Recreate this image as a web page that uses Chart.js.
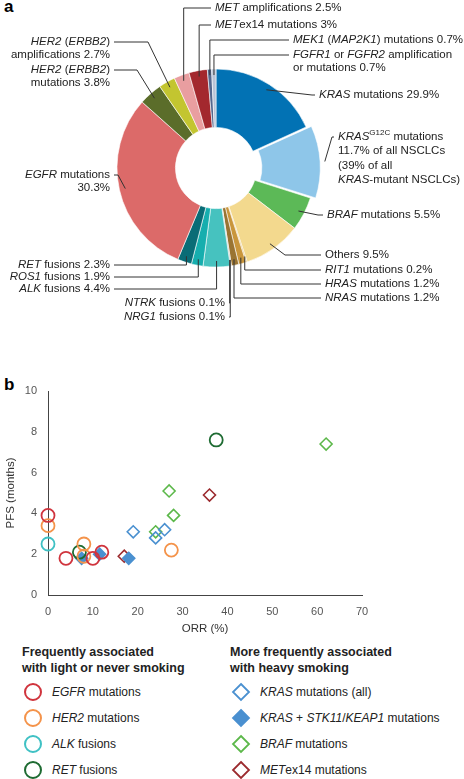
<!DOCTYPE html>
<html><head><meta charset="utf-8">
<script src="https://cdn.jsdelivr.net/npm/chart.js@4"></script>
<style>
body{margin:0;background:#fff;font-family:"Liberation Sans",Arial,sans-serif;width:464px;height:779px;position:relative;overflow:hidden}
#c1{position:absolute;left:0;top:0}
#c2{position:absolute;left:0;top:375px}
.pl{position:absolute;font-weight:bold;font-size:17px}
.lg{position:absolute;font-size:12px;color:#222}
.h{font-weight:bold;font-size:12.5px;line-height:16px}
.it{display:flex;align-items:center;height:26px}
.it svg{margin-right:8px}
</style></head><body>
<div class="pl" style="left:4px;top:-3px">a</div>
<div class="pl" style="left:4px;top:375px">b</div>
<canvas id="c1" width="464" height="330"></canvas>
<canvas id="c2" width="464" height="265"></canvas>
<div class="lg" style="left:22px;top:644px">
 <div class="h">Frequently associated<br>with light or never smoking</div>
 <div style="height:3px"></div>
 <div class="it"><svg width="22" height="20"><circle cx="11" cy="10" r="8" fill="none" stroke="#d0343d" stroke-width="2"/></svg><i>EGFR</i>&nbsp;mutations</div>
 <div class="it"><svg width="22" height="20"><circle cx="11" cy="10" r="8" fill="none" stroke="#f4934a" stroke-width="2"/></svg><i>HER2</i>&nbsp;mutations</div>
 <div class="it"><svg width="22" height="20"><circle cx="11" cy="10" r="8" fill="none" stroke="#3fc1c4" stroke-width="2"/></svg><i>ALK</i>&nbsp;fusions</div>
 <div class="it"><svg width="22" height="20"><circle cx="11" cy="10" r="8" fill="none" stroke="#1e6b32" stroke-width="2"/></svg><i>RET</i>&nbsp;fusions</div>
</div>
<div class="lg" style="left:230px;top:644px">
 <div class="h">More frequently associated<br>with heavy smoking</div>
 <div style="height:3px"></div>
 <div class="it"><svg width="22" height="20"><path d="M11 2 L19 10 L11 18 L3 10Z" fill="none" stroke="#4a90d0" stroke-width="1.8"/></svg><i>KRAS</i>&nbsp;mutations (all)</div>
 <div class="it"><svg width="22" height="20"><path d="M11 2 L19 10 L11 18 L3 10Z" fill="#4a90d0" stroke="#4a90d0" stroke-width="1.8"/></svg><i>KRAS</i>&nbsp;+&nbsp;<i>STK11</i>/<i>KEAP1</i>&nbsp;mutations</div>
 <div class="it"><svg width="22" height="20"><path d="M11 2 L19 10 L11 18 L3 10Z" fill="none" stroke="#5cb84a" stroke-width="1.8"/></svg><i>BRAF</i>&nbsp;mutations</div>
 <div class="it"><svg width="22" height="20"><path d="M11 2 L19 10 L11 18 L3 10Z" fill="none" stroke="#9b2a2e" stroke-width="1.8"/></svg><i>MET</i>ex14 mutations</div>
</div>
<script>
// ---- Donut data ----
const segNames = ["KRAS other","KRAS G12C","BRAF","Others","RIT1","HRAS","NRAS","NRG1","NTRK","ALK","ROS1","RET","EGFR","HER2 mut","HER2 amp","MET amp","METex14","MEK1","FGFR"];
const segValues = [18.2,11.7,5.5,9.5,0.2,1.2,1.2,0.1,0.1,4.4,1.9,2.3,30.3,3.8,2.7,2.5,3.0,0.7,0.7];
const segColors = ["#0272b4","#8ec6e9","#5cb957","#f3d98e","#e3b85c","#c9963c","#9a7432","#6e5a2a","#4a4a40","#46c2bf","#16aeae","#0a6c76","#dc6a69","#5b6d2a","#c3c530","#e99ea0","#a3282e","#54688f","#b9c3d6"];
const segOffsets = [0,16,0,0,0,0,0,0,0,0,0,0,0,0,0,0,0,0,0];

const I=true;
const labels = [
 [15,[[["MET",I],[" amplifications 2.5%"]]],215,8,"L","v"],
 [16,[[["MET",I],["ex14 mutations 3%"]]],215,25,"L","v"],
 [17,[[["MEK1",I],[" ("],["MAP2K1",I],[") mutations 0.7%"]]],293,40,"L","v"],
 [18,[[["FGFR1",I],[" or "],["FGFR2",I],[" amplification"]],[["or mutations 0.7%"]]],293,55,"L","v"],
 [0,[[["KRAS",I],[" mutations 29.9%"]]],319,95,"L","d",312],
 [1,[[["KRAS",I],["G12C",false,true],[" mutations"]],[["11.7% of all NSCLCs"]],[["(39% of all"]],[["KRAS",I],["-mutant NSCLCs)"]]],338,137,"L","d",332],
 [2,[[["BRAF",I],[" mutations 5.5%"]]],327,215,"L","d",318],
 [3,[[["Others 9.5%"]]],325,255,"L","d",285],
 [4,[[["RIT1",I],[" mutations 0.2%"]]],325,270,"L","v"],
 [5,[[["HRAS",I],[" mutations 1.2%"]]],325,284,"L","v"],
 [6,[[["NRAS",I],[" mutations 1.2%"]]],325,298,"L","v"],
 [8,[[["NTRK",I],[" fusions 0.1%"]]],225,303,"R","v"],
 [7,[[["NRG1",I],[" fusions 0.1%"]]],225,317,"R","v"],
 [9,[[["ALK",I],[" fusions 4.4%"]]],110,289,"R","v"],
 [10,[[["ROS1",I],[" fusions 1.9%"]]],110,277,"R","v"],
 [11,[[["RET",I],[" fusions 2.3%"]]],110,265,"R","v"],
 [12,[[["EGFR",I],[" mutations"]],[["30.3%"]]],110,175,"R","d",118],
 [14,[[["HER2",I],[" ("],["ERBB2",I],[")"]],[["amplifications 2.7%"]]],110,42,"R","d",148],
 [13,[[["HER2",I],[" ("],["ERBB2",I],[")"]],[["mutations 3.8%"]]],110,70,"R","d",137]
];
const FS=11.5, FF='"Liberation Sans", Arial, sans-serif';
function fontOf(s){return (s[1]?"italic ":"")+(s[2]?8:FS)+"px "+FF;}
function lineWidth(ctx,line){let w=0;for(const s of line){ctx.font=fontOf(s);w+=ctx.measureText(s[0]).width;}return w;}
function drawLine(ctx,line,x,y){for(const s of line){ctx.font=fontOf(s);ctx.fillText(s[0],x,s[2]?y-4:y);x+=ctx.measureText(s[0]).width;}}

const labelPlugin={id:"lbl",afterDraw(chart){
 const ctx=chart.ctx, meta=chart.getDatasetMeta(0);
 ctx.save();ctx.textBaseline="middle";ctx.fillStyle="#222";ctx.strokeStyle="#333";ctx.lineWidth=1;
 for(const L of labels){
  const arc=meta.data[L[0]];
  const a=(arc.startAngle+arc.endAngle)/2;
  const off=arc.options.offset||0;
  const rr=arc.outerRadius-6+off;
  const ax=arc.x+Math.cos(a)*rr, ay=arc.y+Math.sin(a)*rr;
  const tx = L[4]==="L"? L[2]-4 : L[2]+4;
  const ex = L[5]==="v"? ax : L[6];
  ctx.beginPath();ctx.moveTo(ax,ay);ctx.lineTo(ex,L[3]);ctx.lineTo(tx,L[3]);ctx.stroke();
  L[1].forEach((line,i)=>{
   const w=lineWidth(ctx,line);
   const x = L[4]==="L"? L[2] : L[2]-w;
   drawLine(ctx,line,x,L[3]+i*(L[1].length>2?14.3:12.5));
  });
 }
 ctx.restore();}};

new Chart(document.getElementById("c1"),{type:"doughnut",
 data:{labels:segNames,datasets:[{data:segValues,backgroundColor:segColors,offset:segOffsets,borderColor:"#fff",borderWidth:0.6}]},
 options:{responsive:false,animation:false,radius:99,cutout:"41%",
  layout:{padding:{left:0,right:32,top:6,bottom:0}},
  plugins:{legend:{display:false},tooltip:{enabled:false}}},
 plugins:[labelPlugin]});

// ---- Scatter data ----
const egfr=[[0,3.9],[4,1.8],[10,1.8],[12,2.1]];
const her2=[[0,3.4],[8,2.5],[8,1.9],[27.5,2.2]];
const alk=[[0,2.5]];
const ret=[[7,2.1],[37.5,7.6]];
const krasAll=[[19,3.1],[24,2.8],[26,3.2]];
const krasStk=[[7.5,1.8],[11.5,2.0],[18,1.8]];
const braf=[[24,3.1],[27,5.1],[28,3.9],[62,7.4]];
const metex=[[17,1.9],[36,4.9]];
const xTicks=[0,10,20,30,40,50,60,70];
const yTicks=[0,2,4,6,8,10];
const pts=a=>a.map(p=>({x:p[0],y:p[1]}));
const circ=(d,c)=>({data:pts(d),pointStyle:"circle",pointRadius:6.5,borderColor:c,backgroundColor:"rgba(0,0,0,0)",pointBorderWidth:1.8});
const dia=(d,c,f)=>({data:pts(d),pointStyle:"rectRot",pointRadius:6,borderColor:c,backgroundColor:f||"rgba(0,0,0,0)",pointBorderWidth:1.6});
new Chart(document.getElementById("c2"),{type:"scatter",
 data:{datasets:[circ(egfr,"#d0343d"),circ(her2,"#f4934a"),circ(alk,"#3fc1c4"),circ(ret,"#1e6b32"),
  dia(krasAll,"#4a90d0"),dia(krasStk,"#4a90d0","#4a90d0"),dia(braf,"#5cb84a"),dia(metex,"#9b2a2e")].map(d=>Object.assign(d,{clip:false}))},
 options:{responsive:false,animation:false,
  layout:{padding:{left:0,right:102,top:16,bottom:0}},
  plugins:{legend:{display:false},tooltip:{enabled:false}},
  scales:{
   x:{min:0,max:70,afterBuildTicks:s=>{s.ticks=xTicks.map(v=>({value:v}))},grid:{display:false,drawTicks:true},border:{color:"#444"},
      ticks:{color:"#555",font:{size:11,family:FF},padding:2},
      title:{display:true,text:"ORR (%)",color:"#333",font:{size:11.5,family:FF},padding:{top:3}},
      afterFit:s=>{s.height=45}},
   y:{min:0,max:10,afterBuildTicks:s=>{s.ticks=yTicks.map(v=>({value:v}))},grid:{display:false},border:{color:"#444"},
      ticks:{color:"#555",font:{size:11,family:FF},padding:3},
      title:{display:true,text:"PFS (months)",color:"#333",font:{size:11.5,family:FF}},
      afterFit:s=>{s.width=48}}
  }}});
</script></body></html>
